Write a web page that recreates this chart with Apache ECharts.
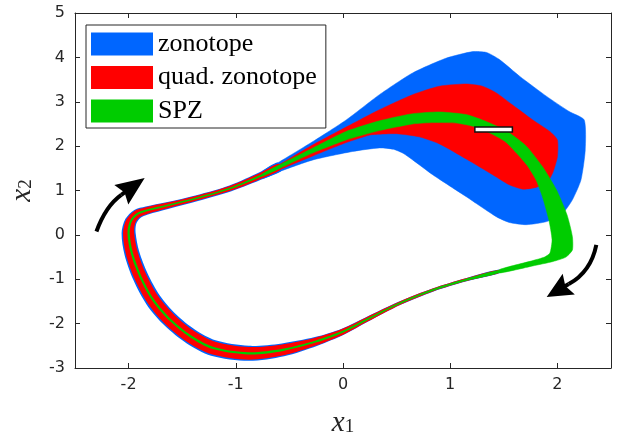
<!DOCTYPE html>
<html>
<head>
<meta charset="utf-8">
<script src="https://cdn.jsdelivr.net/npm/echarts@6/dist/echarts.min.js"></script>
<style>
html, body { margin: 0; padding: 0; background: #fff; }
#chart { width: 623px; height: 441px; }
</style>
</head>
<body>
<div id="chart"></div>
<script>
var xTicks = [-2, -1, 0, 1, 2];
var yMin = -3, yMax = 5, yStep = 1;
var setNames = ['zonotope', 'quad. zonotope', 'SPZ'];
var setColors = ['#0066ff', '#ff0000', '#00cc00'];

// centre line of the thin part of the reachable set, clockwise from the first turn
var loopPath = [[1.46,-0.82],[1.15,-1.01],[0.84,-1.24],[0.53,-1.54],[0.22,-1.91],[0.00,-2.18],
    [-0.25,-2.40],[-0.56,-2.59],[-0.88,-2.67],[-1.21,-2.55],[-1.42,-2.29],[-1.61,-1.92],
    [-1.77,-1.47],[-1.89,-0.94],[-1.97,-0.41],[-2.00,0.04],[-1.98,0.30],[-1.92,0.47],
    [-1.83,0.55],[-1.64,0.66],[-1.36,0.83],[-1.05,1.05],[-0.75,1.35],[-0.59,1.54]];

// half widths along loopPath (x2 units)
var zonoWidth = [0.041,0.036,0.036,0.041,0.056,0.072,0.101,0.147,0.169,0.18,0.18,0.18,
    0.18,0.176,0.169,0.158,0.135,0.113,0.095,0.079,0.068,0.068,0.086,0.1];
var quadWidth = [0.036,0.032,0.032,0.036,0.05,0.063,0.086,0.124,0.142,0.147,0.147,0.147,
    0.142,0.14,0.135,0.126,0.108,0.09,0.077,0.063,0.054,0.054,0.066,0.068];
var spzWidth = [0.032,0.025,0.023,0.02,0.02,0.02,0.023,0.025,0.025,0.025,0.025,0.025,
    0.025,0.025,0.025,0.025,0.023,0.023,0.02,0.018,0.018,0.018,0.026,0.033];

// outlines of the last part of each set
var zonoEnd = [[-0.75,1.43],[-0.59,1.65],[-0.28,2.105],[0.03,2.59],[0.34,3.16],[0.65,3.65],[0.96,3.98],
    [1.21,4.13],[1.34,4.11],[1.46,3.95],[1.65,3.57],[1.90,3.12],[2.11,2.78],[2.25,2.59],
    [2.26,1.92],[2.22,1.24],[2.14,0.79],[2.05,0.49],[1.90,0.30],[1.71,0.23],[1.55,0.28],
    [1.43,0.41],[1.15,0.86],[0.84,1.35],[0.65,1.69],[0.56,1.84],[0.47,1.93],[0.34,1.96],
    [0.09,1.88],[-0.28,1.69],[-0.59,1.43],[-0.75,1.27]];
var quadEnd = [[-0.75,1.41],[-0.59,1.59],[-0.28,2.03],[0.03,2.43],[0.34,2.82],[0.65,3.16],[0.90,3.35],
    [1.15,3.40],[1.30,3.35],[1.43,3.20],[1.58,2.93],[1.77,2.59],[1.93,2.33],[2.00,2.14],
    [2.00,1.76],[1.96,1.42],[1.91,1.20],[1.80,1.07],[1.68,1.03],[1.55,1.13],[1.40,1.35],
    [1.15,1.71],[0.90,2.05],[0.71,2.21],[0.50,2.28],[0.34,2.27],[0.25,2.25],[0.03,2.08],
    [-0.28,1.78],[-0.59,1.47],[-0.75,1.29]];
var spzEnd = [[-0.75,1.375],[-0.59,1.58],[-0.28,1.96],[0.03,2.33],[0.34,2.57],[0.65,2.73],[0.90,2.77],
    [1.15,2.71],[1.34,2.55],[1.52,2.35],[1.71,2.00],[1.86,1.54],[1.99,1.02],[2.09,0.45],
    [2.14,-0.04],[2.14,-0.34],[2.08,-0.50],[1.96,-0.60],[1.77,-0.70],[1.46,-0.86],
    [1.46,-0.78],[1.77,-0.58],[1.88,-0.50],[1.93,-0.41],[1.95,-0.11],[1.92,0.34],
    [1.86,0.86],[1.80,1.24],[1.72,1.56],[1.62,1.84],[1.52,2.09],[1.40,2.26],[1.24,2.43],
    [1.06,2.52],[0.84,2.53],[0.65,2.50],[0.34,2.35],[0.03,2.14],[-0.28,1.85],[-0.59,1.50],
    [-0.75,1.325]];

// initial set [x1 min, x2 min, x1 max, x2 max]
var initialSet = [1.23, 2.32, 1.58, 2.43];

// direction arrows: tail, bend, head base, tip
var arrowUp = [[-2.30,0.076],[-2.215,0.649],[-2.068,0.903],[-1.85,1.28]];
var arrowDown = [[2.363,-0.224],[2.313,-0.831],[2.106,-1.108],[1.90,-1.40]];

var CHART = {
    axisColor: '#262626',

    bandOutline: function (api, path, halfW) {
        var pts = path.map(function (p) { return api.coord(p); });
        var left = [], right = [];
        for (var i = 0; i < pts.length; i++) {
            var a = pts[Math.max(i - 1, 0)], b = pts[Math.min(i + 1, pts.length - 1)];
            var dx = b[0] - a[0], dy = b[1] - a[1];
            var len = Math.sqrt(dx * dx + dy * dy) || 1;
            var w = api.size([0, halfW[i]])[1];
            left.push([pts[i][0] - dy / len * w, pts[i][1] + dx / len * w]);
            right.push([pts[i][0] + dy / len * w, pts[i][1] - dx / len * w]);
        }
        return left.concat(right.reverse());
    },

    setSeries: function (idx, halfW, blob) {
        var self = this;
        return {
            type: 'custom',
            name: setNames[idx],
            silent: true,
            itemStyle: { color: setColors[idx] },
            data: [loopPath[0]],
            renderItem: function (params, api) {
                var fill = setColors[idx];
                return {
                    type: 'group',
                    children: [{
                        type: 'polygon',
                        shape: { points: blob.map(function (p) { return api.coord(p); }), smooth: 0.2 },
                        style: { fill: fill, stroke: fill, lineWidth: 0.5 }
                    }, {
                        type: 'polygon',
                        shape: { points: self.bandOutline(api, loopPath, halfW), smooth: 0.3 },
                        style: { fill: fill }
                    }]
                };
            }
        };
    },

    arrowShape: function (api, arrow) {
        var p = arrow.map(function (q) { return api.coord(q); });
        var base = p[2], tip = p[3];
        var dx = tip[0] - base[0], dy = tip[1] - base[1];
        var len = Math.sqrt(dx * dx + dy * dy);
        var ux = dx / len, uy = dy / len, hw = 12;
        var notch = [base[0] + ux * 4, base[1] + uy * 4];
        return [{
            type: 'bezierCurve',
            shape: { x1: p[0][0], y1: p[0][1], cpx1: p[1][0], cpy1: p[1][1], x2: base[0], y2: base[1] },
            style: { stroke: '#000', lineWidth: 4, fill: null }
        }, {
            type: 'line',
            shape: { x1: base[0], y1: base[1], x2: notch[0] + ux * 3, y2: notch[1] + uy * 3 },
            style: { stroke: '#000', lineWidth: 4 }
        }, {
            type: 'polygon',
            shape: { points: [tip, [base[0] - uy * hw, base[1] + ux * hw], notch, [base[0] + uy * hw, base[1] - ux * hw]] },
            style: { fill: '#000' }
        }];
    },

    option: function () {
        var self = this, c = this.axisColor;
        var tickFont = { fontFamily: 'DejaVu Sans', fontSize: 16, color: c };
        var nameRich = {
            i: { fontFamily: 'Liberation Serif', fontStyle: 'italic', fontSize: 29, color: c, padding: [0, 0, 7, 0] },
            s: { fontFamily: 'Liberation Serif', fontSize: 19, color: c }
        };
        var xBase = {
            type: 'value', min: -2.5, max: 2.5,
            axisLine: { onZero: false, lineStyle: { color: c, width: 1 } },
            axisTick: { inside: true, length: 5, customValues: xTicks, lineStyle: { color: c } },
            splitLine: { show: false }
        };
        var yBase = {
            type: 'value', min: yMin, max: yMax, interval: yStep,
            axisLine: { onZero: false, lineStyle: { color: c, width: 1 } },
            axisTick: { inside: true, length: 5, lineStyle: { color: c } },
            splitLine: { show: false }
        };
        return {
            animation: false,
            backgroundColor: '#fff',
            grid: { left: 75, right: 12, top: 13, bottom: 73, outerBoundsMode: 'none' },
            legend: {
                data: setNames,
                orient: 'vertical',
                left: 86, top: 25,
                padding: [6, 9, 4, 5],
                itemWidth: 62, itemHeight: 23, itemGap: 7.5,
                icon: 'rect',
                selectedMode: false,
                borderColor: c, borderWidth: 1,
                backgroundColor: '#fff',
                textStyle: { fontFamily: 'Liberation Serif', fontSize: 26, color: '#000', lineHeight: 23 }
            },
            xAxis: [
                $.extend(true, {}, xBase, {
                    position: 'bottom',
                    axisLabel: $.extend({ margin: 9, customValues: xTicks }, tickFont),
                    name: '{i|x}{s|1}', nameLocation: 'middle', nameGap: 41,
                    nameTextStyle: { rich: nameRich }
                }),
                $.extend(true, {}, xBase, { position: 'top', axisLabel: { show: false } })
            ],
            yAxis: [
                $.extend(true, {}, yBase, {
                    position: 'left',
                    axisLabel: $.extend({ margin: 10 }, tickFont),
                    name: '{i|x}{s|2}', nameLocation: 'middle', nameGap: 31,
                    nameTextStyle: { rich: nameRich }
                }),
                $.extend(true, {}, yBase, { position: 'right', axisLabel: { show: false } })
            ],
            series: [
                this.setSeries(0, zonoWidth, zonoEnd),
                this.setSeries(1, quadWidth, quadEnd),
                this.setSeries(2, spzWidth, spzEnd),
                {
                    type: 'custom',
                    silent: true,
                    data: [[initialSet[0], initialSet[1]]],
                    renderItem: function (params, api) {
                        var lo = api.coord([initialSet[0], initialSet[1]]);
                        var hi = api.coord([initialSet[2], initialSet[3]]);
                        return {
                            type: 'rect',
                            shape: { x: lo[0], y: hi[1], width: hi[0] - lo[0], height: lo[1] - hi[1] },
                            style: { fill: '#fff', stroke: '#111', lineWidth: 1.5 }
                        };
                    }
                },
                {
                    type: 'custom',
                    silent: true,
                    data: [arrowUp[0], arrowDown[0]],
                    renderItem: function (params, api) {
                        var arrow = params.dataIndex === 0 ? arrowUp : arrowDown;
                        return { type: 'group', children: self.arrowShape(api, arrow) };
                    }
                }
            ]
        };
    },

    init: function () {
        var chart = echarts.init(document.getElementById('chart'), null, { renderer: 'canvas' });
        chart.setOption(this.option());
    }
};

// tiny deep-extend so the axis objects can share a base
var $ = {
    extend: function () {
        var deep = arguments[0] === true, i = deep ? 1 : 0;
        var target = arguments[i++];
        for (; i < arguments.length; i++) {
            var src = arguments[i];
            for (var k in src) {
                var v = src[k];
                if (deep && v && typeof v === 'object' && !Array.isArray(v)) {
                    target[k] = $.extend(true, target[k] && typeof target[k] === 'object' ? target[k] : {}, v);
                } else {
                    target[k] = v;
                }
            }
        }
        return target;
    }
};

document.addEventListener('DOMContentLoaded', function () {
    CHART.init();
}, false);
</script>
</body>
</html>
